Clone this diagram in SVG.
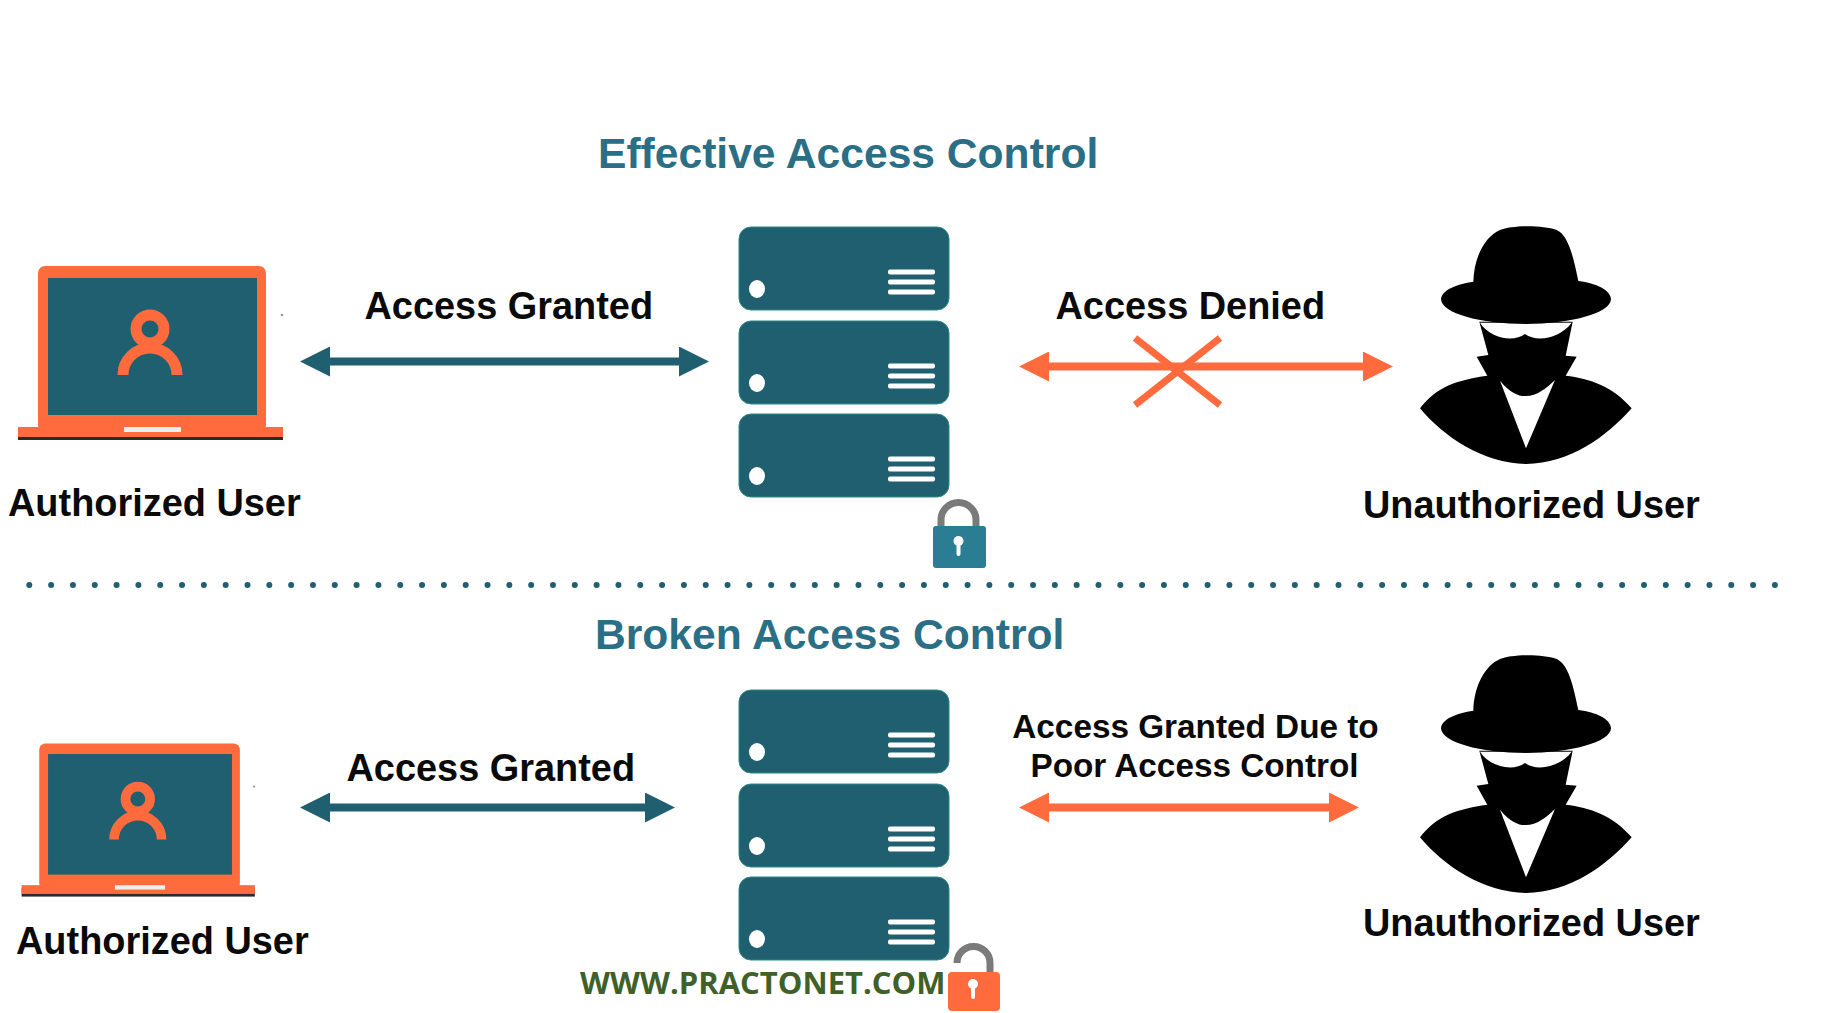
<svg xmlns="http://www.w3.org/2000/svg" width="1821" height="1013" viewBox="0 0 1821 1013">
<style>
text{font-family:"Liberation Sans",Arial,sans-serif;font-weight:700}
.title{font-size:42.600px;fill:#2a6f85}
.label{font-size:37.900px;fill:#0a0a0a}
.small{font-size:33.300px;fill:#0a0a0a}
.mark{font-family:"Open Sans","Noto Sans",sans-serif;font-size:31px;fill:#3f6028}
.rack{fill:#205f70;stroke:#2b8a86;stroke-width:1}
.teal{stroke:#205f70;stroke-width:8;fill:none}
.orange{stroke:#ff6b3d;stroke-width:8;fill:none}
.cross{stroke:#ff6b3d;stroke-width:7;fill:none}
</style>
<defs>
<marker id="headTeal" viewBox="0 0 30 30" refX="15" refY="15" markerWidth="30" markerHeight="30" markerUnits="userSpaceOnUse" orient="auto-start-reverse"><path d="M0 0L30 15L0 30Z" fill="#205f70"/></marker>
<marker id="headOrange" viewBox="0 0 30 30" refX="15" refY="15" markerWidth="30" markerHeight="30" markerUnits="userSpaceOnUse" orient="auto-start-reverse"><path d="M0 0L30 15L0 30Z" fill="#ff6b3d"/></marker>
<g id="laptop">
<rect x="38" y="266" width="228" height="166" rx="7" fill="#ff6b3d"/>
<rect x="48" y="278" width="209" height="137" fill="#205f70"/>
<rect x="18" y="430" width="265" height="10" fill="#2b2b2b"/>
<rect x="18" y="427" width="265" height="10" fill="#ff6b3d"/>
<rect x="124" y="427" width="57" height="5" fill="#eeeeee"/>
<circle cx="150" cy="329" r="14" fill="none" stroke="#ff6b3d" stroke-width="11"/>
<path d="M123 375A27 27 0 0 1 177 375" fill="none" stroke="#ff6b3d" stroke-width="11"/>
<circle cx="282" cy="315" r="1.300" fill="#9a9a9a"/>
</g>
<g id="slot">
<rect x="739" y="227" width="210" height="83" rx="12" class="rack"/>
<ellipse cx="757" cy="289" rx="8" ry="9" fill="#fff"/>
<rect x="888" y="269.500" width="47" height="5" rx="2" fill="#fff"/>
<rect x="888" y="279.500" width="47" height="5" rx="2" fill="#fff"/>
<rect x="888" y="289.500" width="47" height="5" rx="2" fill="#fff"/>
</g>
<g id="rack">
<use href="#slot"/>
<use href="#slot" y="94"/>
<use href="#slot" y="187"/>
</g>
<g id="spy">
<path fill="#000" d="M238 335L265 435L230 440L262 497C170 510 110 530 60 595C130 680 250 760 378 762C510 760 620 680 695 595C640 530 570 505 497 497L530 440L497 437L518 335Z"/>
<path fill="#fff" d="M240 338C270 385 340 398 375 372C410 398 480 385 515 338Z"/>
<path fill="#fff" d="M300 512C330 550 360 560 378 558C410 558 440 535 465 510L378 715Z"/>
<path fill="#000" d="M220 215C222 140 255 80 300 60C335 46 425 44 470 60C505 75 520 140 535 213C590 220 632 240 633 268C632 310 510 342 378 342C240 342 125 310 123 268C125 240 170 222 220 215Z"/>
</g>
</defs>
<rect width="1821" height="1013" fill="#fff"/>

<text class="title" x="598" y="168">Effective Access Control</text>
<text class="title" x="595" y="649">Broken Access Control</text>

<g id="auth-user-top">
<use href="#laptop"/>
<text class="label" x="8" y="515.500">Authorized User</text>
</g>
<g id="server-top">
<use href="#rack"/>
<g id="lock-closed">
<path d="M941 530V520A17.500 17.500 0 0 1 976 520V530" fill="none" stroke="#7a7a7a" stroke-width="7"/>
<rect x="933" y="526" width="53" height="42" rx="3" fill="#2a7d92"/>
<circle cx="958.500" cy="541" r="5" fill="#fff"/>
<rect x="956.500" y="541" width="4" height="15" rx="2" fill="#fff"/>
</g>
</g>
<g id="unauth-user-top">
<use href="#spy" transform="translate(1400 210) scale(.33333)"/>
<text class="label" x="1363" y="517.500">Unauthorized User</text>
</g>

<g id="divider">
<line x1="29.300" y1="585" x2="1776" y2="585" stroke="#205f70" stroke-width="6" stroke-linecap="round" stroke-dasharray="0 21.820"/>
</g>

<g id="auth-user-bottom">
<use href="#laptop" transform="translate(5.800 509.400) scale(.88)"/>
<text class="label" x="16" y="953.500">Authorized User</text>
</g>
<g id="server-bottom">
<use href="#rack" y="463"/>
<g id="lock-open">
<path d="M957 963A16.500 16.500 0 0 1 990 963V975" fill="none" stroke="#7a7a7a" stroke-width="7"/>
<rect x="948" y="972" width="52" height="39" rx="4" fill="#ff6b3d"/>
<circle cx="973" cy="984" r="5" fill="#fff"/>
<rect x="971" y="984" width="4" height="15" rx="2" fill="#fff"/>
</g>
</g>
<g id="unauth-user-bottom">
<use href="#spy" transform="translate(1400 639) scale(.33333)"/>
<text class="label" x="1363" y="935.500">Unauthorized User</text>
</g>
<text class="mark" x="580" y="994">WWW.PRACTONET.COM</text>

<g id="connectors">
<line class="teal" x1="315" y1="361.500" x2="694" y2="361.500" marker-start="url(#headTeal)" marker-end="url(#headTeal)"/>
<line class="orange" x1="1034" y1="366.500" x2="1378" y2="366.500" marker-start="url(#headOrange)" marker-end="url(#headOrange)"/>
<path class="cross" d="M1135 338L1220 405M1220 338L1135 405"/>
<line class="teal" x1="315" y1="807.500" x2="660" y2="807.500" marker-start="url(#headTeal)" marker-end="url(#headTeal)"/>
<line class="orange" x1="1034" y1="807.500" x2="1344" y2="807.500" marker-start="url(#headOrange)" marker-end="url(#headOrange)"/>
</g>
<text class="label" x="364.500" y="319">Access Granted</text>
<text class="label" x="1055.500" y="319">Access Denied</text>
<text class="label" x="346.500" y="781">Access Granted</text>
<text class="small" x="1195.500" y="738" text-anchor="middle">Access Granted Due to</text>
<text class="small" x="1194.500" y="776.500" text-anchor="middle">Poor Access Control</text>
</svg>
